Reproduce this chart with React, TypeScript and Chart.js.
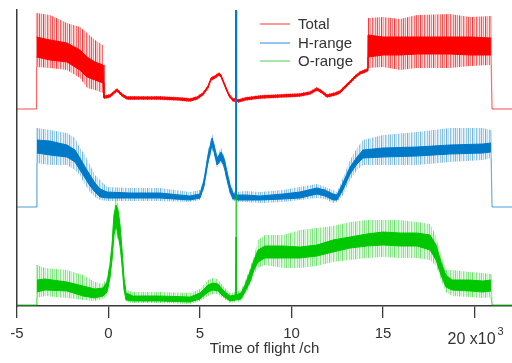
import React, { useEffect, useRef } from 'react';
import { Chart, registerables } from 'chart.js';

Chart.register(...registerables);

// ---------- data (x in 10^3 channels, y in arbitrary offset counts) ----------
const seriesNames = ['Total', 'H-range', 'O-range'];
const xTickValues = [-5, 0, 5, 10, 15, 20];
const xTitle = 'Time of flight /ch';
const xMultiplier = 'x10';
const xExponent = '3';

const totalX = [-5.0, -3.96, -3.93, -3.2, -2.27, -1.56, -1.17, -0.74, -0.3, -0.25, -0.19, 0.08, 0.46, 0.74, 1.01, 1.72, 2.81, 3.91, 4.45, 4.84, 5.16, 5.44, 5.6, 5.82, 6.04, 6.15, 6.37, 6.58, 6.8, 6.94, 6.97, 7.0, 7.08, 7.46, 8.28, 9.37, 10.46, 11.01, 11.39, 11.67, 11.94, 12.38, 12.65, 12.92, 13.2, 13.47, 13.74, 14.02, 14.15, 14.18, 15.0, 15.93, 16.86, 18.66, 19.75, 20.9, 20.96, 22.05];
const totalCoreLo = [null, null, 249, 246, 244, 236, 229, 226, 223, 208, 208, 209, 215, 210, 207, 207, 207, 206, 205, 207, 211, 218, 226, 228, 231, 229, 219, 210, 205, 205, 206, 205, 204, 206, 208, 209, 210, 212, 216, 213, 209, 211, 213, 218, 223, 228, 232, 234, 235, 249, 251, 251, 252, 252, 251, 251, null, null];
const totalCoreHi = [null, null, 269, 266, 263, 256, 249, 244, 241, 210, 210, 211, 217, 212, 209, 209, 209, 208, 207, 209, 213, 220, 228, 230, 233, 231, 221, 212, 207, 207, 360, 207, 206, 208, 210, 211, 212, 214, 218, 215, 211, 213, 215, 220, 225, 230, 234, 236, 237, 271, 269, 269, 269, 269, 269, 268, null, null];
const totalSpikeLo = [197, 197, 239, 238, 236, 228, 218, 216, 213, 207, 207, 208, 214, 209, 206, 206, 206, 205, 204, 206, 210, 217, 225, 227, 230, 228, 218, 209, 204, 204, 205, 204, 203, 205, 207, 208, 209, 211, 215, 212, 208, 210, 212, 217, 222, 227, 231, 233, 234, 238, 239, 236, 238, 238, 240, 241, 197, 197];
const totalSpikeHi = [197, 197, 293, 291, 283, 279, 273, 266, 261, 211, 211, 212, 218, 213, 210, 210, 210, 209, 208, 210, 214, 221, 229, 231, 234, 232, 222, 213, 208, 208, 360, 208, 207, 209, 211, 212, 213, 215, 219, 216, 212, 214, 216, 221, 226, 231, 235, 237, 238, 288, 289, 287, 291, 292, 289, 290, 197, 197];

const hX = [-5.0, -3.96, -3.91, -3.2, -2.27, -1.83, -1.56, -1.28, -1.01, -0.74, -0.46, -0.08, 1.17, 2.81, 4.45, 5.0, 5.22, 5.44, 5.66, 5.77, 5.93, 6.15, 6.31, 6.48, 6.64, 6.8, 6.95, 6.97, 6.99, 7.46, 8.28, 9.54, 10.46, 11.39, 11.83, 12.27, 12.49, 12.81, 13.2, 13.58, 13.91, 15.0, 16.86, 18.66, 20.46, 20.9, 20.96, 22.05];
const hCoreLo = [null, null, 153, 151, 149, 144, 136, 128, 120, 114, 109, 108, 108, 108, 106, 108, 120, 144, 161, 154, 141, 146, 140, 126, 114, 107, 107, 107, 106, 106, 106, 107, 108, 112, 110, 106, 106, 116, 132, 142, 148, 149, 150, 152, 153, 154, null, null];
const hCoreHi = [null, null, 166, 165, 161, 156, 148, 139, 131, 123, 117, 114, 113, 113, 110, 112, 126, 151, 168, 161, 148, 154, 148, 134, 121, 113, 111, 366, 111, 111, 110, 112, 114, 118, 116, 112, 111, 123, 139, 149, 156, 158, 159, 161, 162, 163, null, null];
const hSpikeLo = [99, 99, 143, 141, 141, 136, 131, 121, 114, 109, 106, 105, 105, 105, 104, 106, 117, 141, 156, 151, 138, 144, 137, 123, 111, 105, 105, 105, 104, 104, 103, 104, 106, 108, 107, 103, 104, 111, 126, 136, 141, 141, 141, 144, 146, 148, 99, 99];
const hSpikeHi = [99, 99, 178, 176, 173, 168, 158, 151, 141, 131, 126, 119, 118, 118, 114, 116, 129, 156, 172, 164, 151, 158, 151, 137, 124, 116, 113, 366, 114, 115, 114, 116, 119, 122, 119, 116, 114, 128, 146, 158, 166, 171, 174, 178, 178, 176, 99, 99];

const oX = [-5.0, -3.96, -3.91, -3.47, -2.27, -1.39, -0.74, -0.3, -0.08, 0.08, 0.19, 0.3, 0.41, 0.52, 0.63, 0.74, 0.85, 0.96, 1.34, 2.81, 4.45, 5.0, 5.44, 5.71, 5.98, 6.26, 6.64, 6.95, 6.97, 6.99, 7.24, 7.46, 7.73, 7.95, 8.17, 8.55, 9.54, 10.46, 11.39, 12.27, 13.2, 14.13, 15.0, 15.93, 16.86, 17.57, 17.9, 18.17, 18.44, 18.77, 19.75, 20.46, 20.9, 20.96, 22.05];
const oCoreLo = [null, null, 14, 16, 15, 10, 8, 10, 14, 28, 46, 71, 81, 71, 61, 41, 16, 6, 5, 5, 4, 7, 14, 16, 15, 10, 5, 6, 6, 6, 7, 14, 24, 36, 44, 48, 48, 48, 50, 54, 58, 60, 61, 60, 60, 56, 46, 31, 19, 16, 15, 14, 15, null, null];
const oCoreHi = [null, null, 26, 27, 24, 20, 17, 18, 24, 41, 61, 91, 101, 96, 81, 56, 28, 13, 10, 10, 9, 13, 21, 23, 22, 16, 10, 11, 69, 11, 13, 21, 34, 46, 56, 60, 60, 59, 61, 66, 69, 72, 74, 73, 73, 71, 61, 44, 31, 26, 26, 25, 26, null, null];
const oSpikeLo = [1, 1, 8, 10, 8, 6, 5, 7, 11, 25, 42, 61, 71, 66, 56, 38, 13, 4, 3, 3, 2, 5, 10, 12, 12, 8, 3, 4, 4, 4, 5, 11, 20, 32, 38, 41, 38, 38, 40, 44, 46, 48, 49, 48, 48, 46, 40, 26, 14, 10, 9, 8, 9, 1, 1];
const oSpikeHi = [1, 1, 41, 38, 36, 31, 24, 22, 28, 45, 66, 101, 110, 101, 86, 60, 32, 16, 14, 14, 13, 17, 26, 28, 27, 20, 13, 14, 111, 14, 16, 25, 38, 50, 66, 71, 71, 76, 78, 80, 84, 86, 86, 86, 84, 82, 70, 50, 36, 36, 34, 33, 32, 1, 1];

// ---------- styles ----------
const FONT = '"Liberation Sans", Arial, Helvetica, sans-serif';
const TEXT = '#333333';
const AXIS = '#3a3a3a';
const COLORS = [
  { rgb: [255, 0, 0], core: 'rgb(255,0,0)', edge: 'rgba(255,0,0,0.4)', legend: 'rgb(245,120,120)', dens: 1.25 },
  { rgb: [0, 122, 200], core: 'rgb(0,122,200)', edge: 'rgba(0,122,200,0.4)', legend: 'rgb(110,180,228)', dens: 0.9 },
  { rgb: [0, 200, 0], core: 'rgb(0,200,0)', edge: 'rgba(0,200,0,0.45)', legend: 'rgb(140,220,140)', dens: 0.9 },
];
// column opacities of the vertical-stripe texture used for the noisy envelopes
const STRIPES = [0.55, 0.12, 0.4, 0.05, 0.62, 0.18, 0.3, 0.08, 0.5, 0.22, 0.1, 0.45, 0.15];

function stripePattern(rgb: number[], dens: number) {
  const tile = document.createElement('canvas');
  tile.width = STRIPES.length;
  tile.height = 4;
  const t = tile.getContext('2d')!;
  STRIPES.forEach((a, i) => {
    t.fillStyle = `rgba(${rgb[0]},${rgb[1]},${rgb[2]},${Math.min(1, a * dens)})`;
    t.fillRect(i, 0, 1, 4);
  });
  const ctx = document.createElement('canvas').getContext('2d')!;
  return ctx.createPattern(tile, 'repeat');
}

function pts(xs: number[], ys: (number | null)[]) {
  return xs.map((x, i) => ({ x, y: ys[i] }));
}

function bandSets(xs: number[], cLo: any[], cHi: any[], sLo: any[], sHi: any[], c: any, baseOrder: number) {
  const common = { pointRadius: 0, tension: 0, spanGaps: false };
  const pat = stripePattern(c.rgb, c.dens);
  const base = sLo[0];
  // envelope outline only on the baseline, the steps and the sharp single-channel spike
  const seg = {
    borderColor: (s: any) => {
      const a = s.p0.parsed.y;
      const b = s.p1.parsed.y;
      return a === base || b === base || Math.abs(b - a) > 60 ? c.edge : 'rgba(0,0,0,0)';
    },
  };
  return [
    { ...common, data: pts(xs, sHi), borderColor: c.edge, borderWidth: 1, fill: false, segment: seg, order: baseOrder + 3 },
    { ...common, data: pts(xs, sLo), borderColor: c.edge, borderWidth: 1, fill: '-1', backgroundColor: pat, segment: seg, order: baseOrder + 2 },
    { ...common, data: pts(xs, cHi), borderColor: c.core, borderWidth: 1, fill: false, order: baseOrder + 1 },
    { ...common, data: pts(xs, cLo), borderColor: c.core, borderWidth: 1, fill: '-1', backgroundColor: c.core, order: baseOrder },
  ];
}

const extrasPlugin = {
  id: 'extras',
  afterDraw(chart: any) {
    const ctx = chart.ctx;
    ctx.save();
    // legend
    ctx.font = `15px ${FONT}`;
    ctx.textBaseline = 'middle';
    ctx.textAlign = 'left';
    const rows = [24, 43, 61];
    seriesNames.forEach((name, i) => {
      ctx.strokeStyle = COLORS[i].legend;
      ctx.lineWidth = 1.5;
      ctx.beginPath();
      ctx.moveTo(260, rows[i]);
      ctx.lineTo(290, rows[i]);
      ctx.stroke();
      ctx.fillStyle = TEXT;
      ctx.fillText(name, 298, rows[i] + 0.5);
    });
    // "20 x10^3" label
    const xs = chart.scales.x;
    const px20 = xs.getPixelForValue(20);
    ctx.fillStyle = TEXT;
    ctx.textBaseline = 'alphabetic';
    ctx.font = `16px ${FONT}`;
    const main = `20 ${xMultiplier}`;
    const left = px20 - 27;
    ctx.fillText(main, left, 344);
    const w = ctx.measureText(main).width;
    ctx.font = `11px ${FONT}`;
    ctx.fillText(xExponent, left + w + 2, 335);
    ctx.restore();
  },
};

export default function App() {
  const ref = useRef<HTMLCanvasElement>(null);
  useEffect(() => {
    if (!ref.current) return;
    const datasets: any[] = [
      ...bandSets(oX, oCoreLo, oCoreHi, oSpikeLo, oSpikeHi, COLORS[2], 0),
      ...bandSets(hX, hCoreLo, hCoreHi, hSpikeLo, hSpikeHi, COLORS[1], 4),
      ...bandSets(totalX, totalCoreLo, totalCoreHi, totalSpikeLo, totalSpikeHi, COLORS[0], 8),
    ];
    const chart = new Chart(ref.current, {
      type: 'line',
      data: { datasets },
      options: {
        animation: false,
        responsive: false,
        devicePixelRatio: 1,
        layout: { padding: { top: 10, right: 0, left: 0, bottom: 0 } },
        plugins: { legend: { display: false }, tooltip: { enabled: false } },
        scales: {
          x: {
            type: 'linear',
            min: -5,
            max: 22.05,
            position: 'bottom',
            afterFit: (s: any) => { s.height = 57; },
            afterBuildTicks: (s: any) => { s.ticks = xTickValues.map((v) => ({ value: v })); },
            grid: { display: true, drawOnChartArea: false, drawTicks: true, tickLength: 12, color: AXIS, lineWidth: 1.3 },
            border: { display: true, color: AXIS, width: 1.5 },
            ticks: {
              includeBounds: false,
              autoSkip: false,
              maxRotation: 0,
              padding: 7,
              color: TEXT,
              font: { family: FONT, size: 15 },
              callback: (v: any) => (v === 20 ? '' : String(v)),
            },
            title: {
              display: true,
              text: xTitle,
              color: TEXT,
              font: { family: FONT, size: 15 },
              padding: { top: 0, bottom: 5 },
            },
          },
          y: {
            type: 'linear',
            min: 0,
            max: 296,
            afterFit: (s: any) => { s.width = 17; },
            grid: { display: false },
            border: { display: true, color: AXIS, width: 1.5 },
            ticks: { display: false },
          },
        },
      },
      plugins: [extrasPlugin],
    });
    return () => chart.destroy();
  }, []);
  return (
    <div style={{ position: 'fixed', left: 0, top: 0, width: 512, height: 363, background: '#ffffff' }}>
      <canvas ref={ref} width={512} height={363} style={{ display: 'block', width: 512, height: 363 }} />
    </div>
  );
}
